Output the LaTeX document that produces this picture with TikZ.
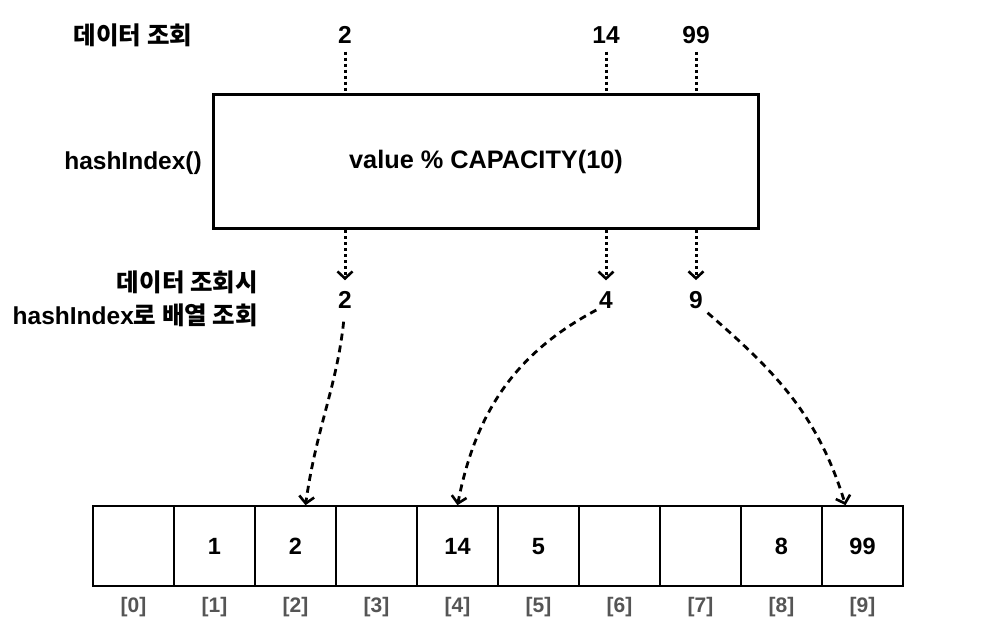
\documentclass[tikz,border=0pt]{standalone}
\usepackage{fontspec}
\setmainfont{Liberation Sans}
\newfontfamily\kr{Noto Sans CJK KR}
\usetikzlibrary{arrows.meta}
\definecolor{idxgray}{HTML}{555555}

\tikzset{
  txt/.style={font=\fontsize{24.5}{29}\selectfont\bfseries, inner sep=0pt},
  krtxt/.style={font=\fontsize{24.5}{33}\selectfont\bfseries, inner sep=0pt},
  hashbox/.style={draw, line width=3.5pt, minimum width=545pt, minimum height=134pt, txt, font=\fontsize{25.3}{30}\selectfont\bfseries},
  cell/.style={draw, line width=1.6pt, minimum width=81pt, minimum height=80pt, txt, font=\fontsize{23.5}{28}\selectfont\bfseries, text height=17pt, text depth=0pt},
  idx/.style={font=\fontsize{21}{24}\selectfont\bfseries, text=idxgray, inner sep=0pt},
  dotline/.style={line width=3pt, dash pattern=on 3pt off 3pt},
  dotarrow/.style={dotline, -{Straight Barb[length=7pt,width=15pt,line width=2.6pt]}},
  dasharrow/.style={line width=2.8pt, dash pattern=on 7pt off 5pt, -{Straight Barb[length=7pt,width=15pt,line width=2.6pt]}}
}

\begin{document}
\begin{tikzpicture}[x=1pt,y=1pt]
\useasboundingbox[fill=white] (0,0) rectangle (1002,635);
% labels on the left
\node[krtxt] (lookup) at (133,600) {\kr 데이터 조회};
\node[txt, anchor=east] (func) at (202,472) {hashIndex()};
\node[krtxt, anchor=east, align=right] (note) at (258,336) {\kr 데이터 조회시\\hashIndex{\kr 로 배열 조회}};
% hash function box
\node[hashbox] (hash) at (486,473.5) {value \% CAPACITY(10)};
% values in and out
\node[txt] (in2) at (345,600) {2};
\node[txt] (in14) at (606,600) {14};
\node[txt] (in99) at (696,600) {99};
\node[txt] (out2) at (345,335) {2};
\node[txt] (out4) at (606,335) {4};
\node[txt] (out9) at (696,335) {9};
\foreach \a in {2,14,99}
  \draw[dotline, shorten <=8pt] (in\a.south) -- (in\a.south |- hash.north);
\foreach \b in {2,4,9}
  \draw[dotarrow, shorten >=11pt] (hash.south -| out\b) -- (out\b.north);
% array
\foreach \v [count=\i from 0] in {{},1,2,{},14,5,{},{},8,99} {
  \node[cell] (cell\i) at (133.5+81*\i,89) {\v};
  \node[idx] (idx\i) at (133.5+81*\i,28) {[\i]};
}
% lookup arrows
\draw[dasharrow, shorten <=13pt] (out2.south) to[out=-96,in=82] ([xshift=10pt]cell2.north);
\draw[dasharrow, shorten <=3pt] (out4.south west) to[out=208,in=79] (cell4.north);
\draw[dasharrow, shorten <=6pt] (out9.south east) to[out=-41,in=107] ([xshift=-17pt]cell9.north);
\end{tikzpicture}
\end{document}
